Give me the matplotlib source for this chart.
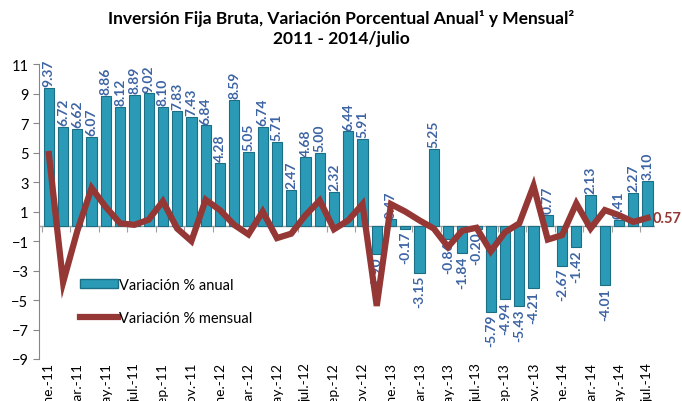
import matplotlib.pyplot as plt
from matplotlib.patches import Patch
from matplotlib.lines import Line2D

plt.rcParams['font.family'] = ['Lato', 'DejaVu Sans']

# meses ene-2011 .. jul-2014
meses = ['ene.', 'feb.', 'mar.', 'abr.', 'may.', 'jun.', 'jul.', 'ago.', 'sep.', 'oct.', 'nov.', 'dic.']
anios = ['11', '12', '13', '14']
categorias = [m + '-' + a for a in anios for m in meses][:43]

anual = [9.37, 6.72, 6.62, 6.07, 8.86, 8.12, 8.89, 9.02, 8.10, 7.83, 7.43, 6.84,
         4.28, 8.59, 5.05, 6.74, 5.71, 2.47, 4.68, 5.00, 2.32, 6.44, 5.91, -1.90,
         0.47, -0.17, -3.15, 5.25, -0.86, -1.84, -0.20, -5.79, -4.94, -5.43, -4.21, 0.77,
         -2.67, -1.42, 2.13, -4.01, 0.41, 2.27, 3.10]

mensual = [4.9, -3.8, -0.3, 2.6, 1.3, 0.2, 0.1, 0.45, 1.7, -0.15, -1.0, 1.8,
           1.1, 0.1, -0.55, 1.0, -0.8, -0.5, 0.75, 1.75, -0.2, 0.4, 1.5, -5.4,
           1.5, 1.0, 0.4, -0.15, -1.4, -0.3, -0.1, -1.7, -0.4, 0.2, 2.75, -0.9,
           -0.6, 1.55, -0.15, 1.1, 0.75, 0.3, 0.57]

color_barra = '#2b9ab6'
color_borde = '#1c6e84'
color_linea = '#953735'
color_etiq = '#3d64a4'

fig = plt.figure(figsize=(6.82, 4.02), dpi=100)
ax = fig.add_axes([0.057, 0.1045, 0.903, 0.7335])

x = list(range(len(anual)))
ax.bar(x, anual, width=0.72, color=color_barra, edgecolor=color_borde, linewidth=0.8, zorder=2)
ax.plot(x, mensual, color=color_linea, linewidth=4.5, solid_joinstyle='miter', zorder=4)

# etiquetas de datos
for i, v in enumerate(anual):
    if v >= 0:
        ax.text(i, v + 0.12, f'{v:.2f}', rotation=90, ha='center', va='bottom',
                fontsize=10, fontweight='bold', color=color_etiq, zorder=3)
    else:
        ax.text(i, v - 0.12, f'{v:.2f}', rotation=90, ha='center', va='top',
                fontsize=10, fontweight='bold', color=color_etiq, zorder=3)

ax.text(len(anual) - 1 + 0.35, mensual[-1], f'{mensual[-1]:.2f}', ha='left', va='center',
        fontsize=10.5, fontweight='bold', color=color_linea, zorder=5)

ax.set_xlim(-0.7, len(anual) - 0.5)
ax.set_ylim(-9, 11)
ax.set_yticks(range(-9, 12, 2))
ax.tick_params(axis='y', labelsize=10.5, length=4, color='#868686')

for s in ['top', 'right', 'bottom']:
    ax.spines[s].set_visible(False)
ax.spines['left'].set_color('#868686')

# eje en cero con marcas
ax.axhline(0, color='#a0a0a0', linewidth=1, zorder=1)
eje0 = ax.secondary_xaxis(9 / 20)
eje0.set_xticks([k - 0.5 for k in range(0, len(anual) + 1, 2)])
eje0.set_xticklabels([])
eje0.tick_params(length=4, color='#a0a0a0')
eje0.spines['bottom'].set_visible(False)

ax.set_xticks(x[::2])
ax.set_xticklabels(categorias[::2], rotation=90, fontsize=10)
ax.tick_params(axis='x', length=0, pad=2)

fig.text(0.5, 0.955, 'Inversión Fija Bruta, Variación Porcentual Anual¹ y Mensual²',
         ha='center', va='center', fontsize=12.5, fontweight='bold')
fig.text(0.5, 0.903, '2011 - 2014/julio', ha='center', va='center', fontsize=12.5, fontweight='bold')

handles = [Patch(facecolor=color_barra, edgecolor=color_borde),
           Line2D([0], [0], color=color_linea, linewidth=4.5)]
ax.legend(handles, ['Variación % anual', 'Variación % mensual'], loc='upper left',
          bbox_to_anchor=(0.045, 0.32), frameon=False, fontsize=10.5, handlelength=2.6,
          handleheight=0.5, labelspacing=1.3, handletextpad=0.1)

fig.savefig('out.png', dpi=100)
